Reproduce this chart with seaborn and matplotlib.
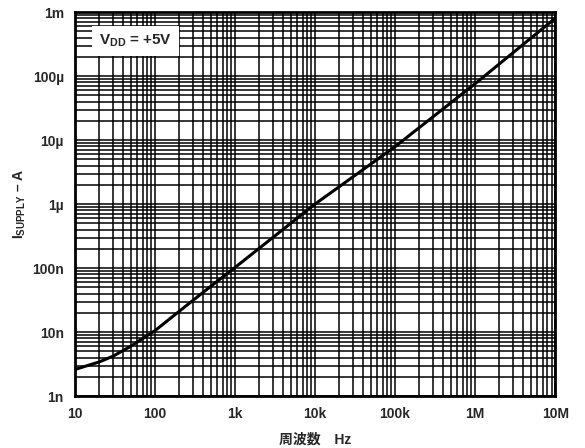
import numpy as np
import pandas as pd
import matplotlib
matplotlib.use("Agg")
import matplotlib.pyplot as plt
import seaborn as sns
from matplotlib.ticker import LogLocator, FixedLocator, FixedFormatter, NullFormatter

# data
freq_hz = [10, 20, 30, 50, 70, 100, 200, 500, 1e3, 1e4, 1e5, 1e6, 1e7]
supply_a = [2.6e-9, 3.4e-9, 4.2e-9, 6.0e-9, 7.9e-9, 10.5e-9, 21e-9, 52e-9,
            1.02e-7, 1.0e-6, 7.9e-6, 7.6e-5, 8.0e-4]

x_ticks = [10, 100, 1e3, 1e4, 1e5, 1e6, 1e7]
x_labels = ["10", "100", "1k", "10k", "100k", "1M", "10M"]
y_ticks = [1e-9, 1e-8, 1e-7, 1e-6, 1e-5, 1e-4, 1e-3]
y_labels = ["1n", "10n", "100n", "1\u00b5", "10\u00b5", "100\u00b5", "1m"]

df = pd.DataFrame({"freq": freq_hz, "isupply": supply_a})

sns.set_style("white")
plt.rcParams["font.family"] = ["Liberation Sans", "Noto Sans CJK JP"]
plt.rcParams["mathtext.fontset"] = "custom"
plt.rcParams["mathtext.bf"] = "Liberation Sans:bold"
plt.rcParams["mathtext.rm"] = "Liberation Sans:bold"

fig = plt.figure(figsize=(5.85, 4.48), dpi=100)
ax = fig.add_axes([0.128, 0.116, 0.821, 0.857])

sns.lineplot(data=df, x="freq", y="isupply", ax=ax, color="black", linewidth=2.2)
ax.set_xscale("log")
ax.set_yscale("log")
ax.set_xlim(10, 1e7)
ax.set_ylim(1e-9, 1e-3)

ax.xaxis.set_major_locator(FixedLocator(x_ticks))
ax.xaxis.set_major_formatter(FixedFormatter(x_labels))
ax.yaxis.set_major_locator(FixedLocator(y_ticks))
ax.yaxis.set_major_formatter(FixedFormatter(y_labels))
ax.xaxis.set_minor_locator(LogLocator(base=10, subs=np.arange(2, 10), numticks=20))
ax.yaxis.set_minor_locator(LogLocator(base=10, subs=np.arange(2, 10), numticks=20))
ax.xaxis.set_minor_formatter(NullFormatter())
ax.yaxis.set_minor_formatter(NullFormatter())

ax.grid(True, which="both", color="black", linewidth=1.1)
ax.set_axisbelow(True)
ax.tick_params(which="both", length=0, labelsize=10, pad=8)
for lbl in ax.get_xticklabels() + ax.get_yticklabels():
    lbl.set_fontweight("bold")
for sp in ax.spines.values():
    sp.set_color("black")
    sp.set_linewidth(2)

ax.set_xlabel("周波数　Hz", fontsize=10, fontweight="bold", labelpad=8)
ax.set_ylabel(r"I$_{\mathbf{SUPPLY}}$ – A", fontsize=10, fontweight="bold", labelpad=3)

ax.text(0.05, 0.925, r"V$_{\mathbf{DD}}$ = +5V", transform=ax.transAxes,
        fontsize=11, fontweight="bold", va="center", ha="left",
        bbox=dict(facecolor="white", edgecolor="none", pad=5))

fig.savefig("out.png", dpi=100)
